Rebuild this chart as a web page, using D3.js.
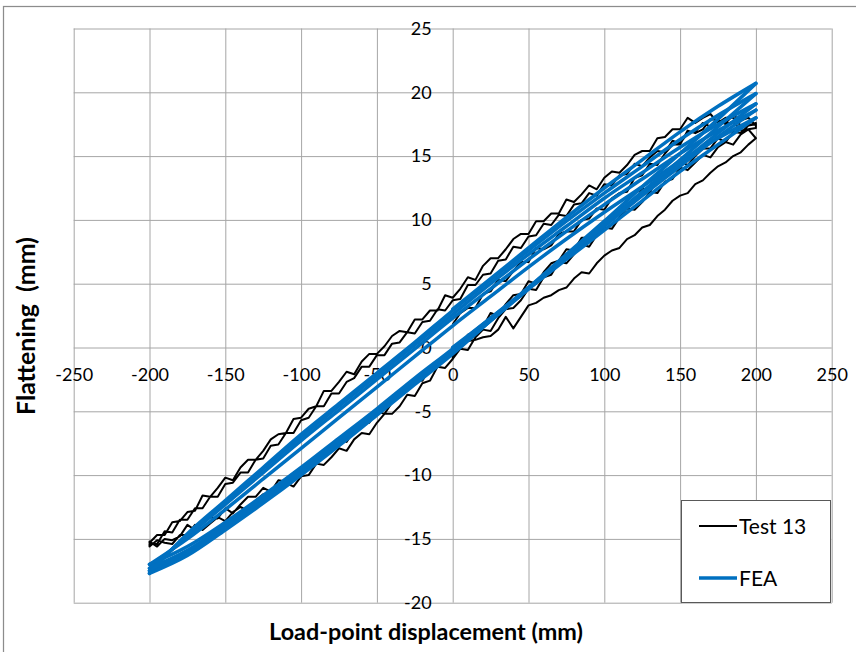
<!DOCTYPE html>
<html>
<head>
<meta charset="utf-8">
<script src="https://cdn.jsdelivr.net/npm/d3@7"></script>
<style>
html,body{margin:0;padding:0;background:#fff;}
svg{display:block;}
text{font-family:Lato,"Open Sans","Noto Sans",sans-serif;}
</style>
</head>
<body>
<svg id="chart" width="856" height="652"></svg>
<script>
// ---------------- DATA ----------------
const xTicks = [-250,-200,-150,-100,-50,0,50,100,150,200,250];
const yTicks = [-20,-15,-10,-5,0,5,10,15,20,25];
const seriesNames = ["Test 13","FEA"];

// Test 13 displacement grid (mm)
const dispUp = [-200,-195,-190,-185,-180,-175,-170,-165,-160,-155,-150,-145,-140,-135,-130,-125,-120,-115,-110,-105,-100,-95,-90,-85,-80,-75,-70,-65,-60,-55,-50,-45,-40,-35,-30,-25,-20,-15,-10,-5,0,5,10,15,20,25,30,35,40,45,50,55,60,65,70,75,80,85,90,95,100,105,110,115,120,125,130,135,140,145,150,155,160,165,170,175,180,185,190,195,200];
const dispDown = dispUp.slice().reverse();

// Test 13: first loading (0 -> 200)
const test13_load0_disp = [0,0,3,5,10,15,20,25,30,35,40,45,50,55,60,65,70,75,80,85,90,95,100,105,110,115,120,125,130,135,140,145,150,155,160,165,170,175,180,185,190,195,200];
const test13_load0 = [0.1,-0.9,0.0,0.2,0.5,0.6,0.8,0.9,1.4,2.4,1.5,2.4,3.3,3.5,3.9,4.1,4.5,4.7,5.4,5.9,5.8,6.6,7.2,7.6,7.8,8.5,8.8,9.4,9.6,10.3,10.8,11.5,11.9,12.1,12.8,13.1,13.7,14.2,14.5,15.0,15.3,15.9,16.4];
// Test 13: unloading 200 -> -200 (dispDown order)
const test13_unload1 = [16.4,17.1,17.0,17.7,17.5,17.8,17.3,17.6,16.9,16.8,16.0,16.2,15.3,15.4,14.9,14.2,14.4,13.6,13.5,12.7,12.8,11.9,12.1,11.3,11.2,10.3,10.4,9.6,9.7,8.8,8.7,7.8,7.9,6.9,6.8,5.8,5.7,4.9,4.9,3.8,3.7,2.9,3.0,2.1,2.0,1.1,1.2,0.4,0.3,-0.6,-0.6,-1.5,-1.5,-2.4,-2.7,-3.6,-3.6,-4.6,-4.6,-5.5,-5.7,-6.7,-6.7,-7.6,-7.7,-8.7,-8.8,-9.8,-9.8,-10.6,-10.7,-11.7,-11.7,-12.6,-12.6,-13.5,-13.5,-14.5,-14.4,-15.4,-15.4];
// Test 13: reloading -200 -> 200 (dispUp order)
const test13_load1 = [-15.6,-15.1,-15.3,-15.4,-14.7,-14.7,-13.9,-14.3,-13.8,-13.3,-13.6,-12.9,-12.5,-12.8,-12.0,-11.5,-11.7,-11.3,-10.6,-10.9,-10.1,-10.0,-9.1,-9.2,-8.6,-7.9,-8.1,-7.2,-6.7,-6.8,-5.9,-5.2,-5.2,-4.6,-3.7,-3.8,-2.8,-2.6,-1.5,-1.6,-0.9,-0.1,-0.2,0.8,1.4,1.3,2.3,3.0,3.1,3.7,4.6,4.5,5.5,5.7,6.7,6.6,7.3,8.1,7.9,8.8,9.4,9.3,10.2,10.9,10.8,11.4,12.2,12.1,13.0,13.2,14.1,13.9,14.5,15.1,14.9,15.7,16.1,15.9,16.7,17.1,17.2];
const test13_unload2 = [17.5,17.4,17.4,18.0,18.0,17.6,18.3,18.0,17.6,18.0,17.1,17.1,16.5,16.4,15.4,15.4,15.1,14.3,13.7,13.8,13.3,12.4,12.7,12.0,11.4,11.6,10.5,10.5,9.9,9.9,8.9,8.9,8.5,7.7,7.0,7.0,6.4,5.3,5.5,4.6,3.9,4.1,2.9,2.9,2.2,2.2,1.2,1.3,0.9,0.1,-0.5,-0.5,-1.1,-2.1,-1.9,-2.7,-3.4,-3.4,-4.6,-4.8,-5.5,-5.6,-6.7,-6.8,-7.2,-8.1,-8.8,-8.8,-9.4,-10.4,-10.2,-11.0,-11.7,-11.6,-12.8,-12.9,-13.6,-13.7,-14.7,-14.7,-15.3];
const test13_load2 = [-15.2,-15.6,-15.0,-15.1,-14.8,-13.9,-14.3,-13.6,-13.3,-13.4,-12.6,-13.0,-12.3,-11.7,-11.7,-11.0,-11.3,-10.4,-10.5,-9.8,-9.5,-9.5,-8.5,-8.4,-8.1,-7.1,-7.4,-6.5,-6.0,-5.9,-5.0,-5.2,-4.3,-3.6,-3.4,-2.5,-2.6,-1.6,-1.5,-0.7,-0.2,-0.1,1.0,1.2,1.6,2.7,2.5,3.4,4.1,4.2,5.2,5.0,5.9,6.6,6.8,7.7,7.6,8.6,8.6,9.4,9.9,10.0,11.0,11.1,11.4,12.5,12.2,13.1,13.6,13.7,14.6,14.3,15.0,15.6,15.6,16.4,16.1,16.9,16.8,17.4,17.6];
// Test 13: final unloading 200 -> 0 (first 41 of dispDown)
const test13_unload3 = [17.4,18.0,17.8,18.2,17.6,17.8,17.9,17.1,16.8,17.0,15.9,15.9,15.2,14.3,14.4,13.5,13.3,12.2,12.1,11.7,10.8,10.9,10.1,10.0,9.1,9.1,8.9,8.0,7.7,7.8,6.7,6.7,6.0,5.2,5.3,4.4,4.2,3.1,3.1,2.7,1.8];

// FEA displacement grid (mm)
const feaDispUp = [-200,-175,-150,-125,-100,-75,-50,-25,0,25,50,75,100,125,150,175,200];
const feaDispDown = feaDispUp.slice().reverse();
const fea_load0 = [0,2.3,4.6,6.9,9.2,11.5,13.8,15.9,18.0];            // 0 -> 200
const fea_unload1 = [18.0,16.4,14.6,12.6,10.6,8.5,6.3,4.0,1.7,-0.7,-3.1,-5.5,-7.9,-10.3,-12.7,-15.0,-17.0];
const fea_load1 = [-17.0,-15.6,-13.7,-11.6,-9.4,-7.1,-4.8,-2.4,-0.1,2.3,4.7,7.1,9.5,11.9,14.2,16.5,18.6];
const fea_unload2 = [18.6,17.0,15.2,13.2,11.2,9.1,6.9,4.6,2.3,-0.1,-2.5,-4.9,-7.3,-9.8,-12.3,-14.8,-17.3];
const fea_load2 = [-17.3,-15.9,-13.9,-11.8,-9.6,-7.3,-5.0,-2.6,-0.3,2.1,4.6,7.1,9.6,12.0,14.4,16.8,19.1];
const fea_unload3 = [19.1,17.5,15.7,13.7,11.7,9.5,7.3,5.0,2.6,0.2,-2.2,-4.6,-7.0,-9.5,-12.1,-14.7,-17.5];
const fea_load3 = [-17.5,-16.1,-14.1,-12.0,-9.8,-7.5,-5.2,-2.8,-0.4,2.1,4.6,7.1,9.7,12.2,14.7,17.3,19.9];
const fea_unload4 = [19.9,18.2,16.3,14.2,12.1,9.9,7.6,5.3,2.9,0.4,-2.0,-4.4,-6.8,-9.4,-12.0,-14.6,-17.7];
const fea_load4 = [-17.7,-16.3,-14.3,-12.2,-10.0,-7.7,-5.3,-2.9,-0.5,2.1,4.7,7.3,9.9,12.6,15.2,17.9,20.7];
const fea_unload5 = [20.7,18.9,16.9,14.7,12.5,10.2,7.8,5.4,3.0];        // 200 -> 0

// ---------------- CHART ----------------
const svg = d3.select("#chart");
const plot = {left:73.7, right:831.7, top:28.5, bottom:602.7};
const x = d3.scaleLinear().domain([-250,250]).range([plot.left, plot.right]);
const y = d3.scaleLinear().domain([-20,25]).range([plot.bottom, plot.top]);
const gridColor = "#a6a6a6";
const blue = "#0070c0";

// outer chart border
svg.append("rect").attr("x",3.5).attr("y",6.5).attr("width",900).attr("height",700)
  .attr("fill","none").attr("stroke","#8c8c8c").attr("stroke-width",1.25);

// gridlines via axes
svg.append("g").attr("transform",`translate(0,${plot.bottom})`)
  .call(d3.axisBottom(x).tickValues(xTicks).tickSize(-(plot.bottom-plot.top)).tickFormat(""))
  .call(g=>{g.select(".domain").remove(); g.selectAll("line").attr("stroke",gridColor).attr("stroke-width",1);});
svg.append("g").attr("transform",`translate(${plot.left},0)`)
  .call(d3.axisLeft(y).tickValues(yTicks).tickSize(-(plot.right-plot.left)).tickFormat(""))
  .call(g=>{g.select(".domain").remove(); g.selectAll("line").attr("stroke",gridColor).attr("stroke-width",1);});

// tick labels: x labels below y=0 line, y labels left of x=0 line
const fmt = d => String(d);
const xLab = svg.append("g").attr("transform",`translate(0,${y(0)})`)
  .call(d3.axisBottom(x).tickValues(xTicks).tickSize(0).tickPadding(21).tickFormat(fmt));
xLab.select(".domain").remove();
xLab.selectAll("text").attr("font-size",18).attr("fill","#000").attr("font-family","Lato");
const yLab = svg.append("g").attr("transform",`translate(${x(0)},0)`)
  .call(d3.axisLeft(y).tickValues(yTicks).tickSize(0).tickPadding(21).tickFormat(fmt));
yLab.select(".domain").remove();
yLab.selectAll("text").attr("font-size",18).attr("fill","#000").attr("font-family","Lato");

// ---- data lines ----
function pts(disp, vals){ return vals.map((v,i)=>[disp[i], v]); }
const testPoints = [].concat(
  pts(test13_load0_disp, test13_load0),
  pts(dispDown, test13_unload1),
  pts(dispUp, test13_load1),
  pts(dispDown, test13_unload2),
  pts(dispUp, test13_load2),
  pts(dispDown.slice(0,41), test13_unload3)
);
const lineLin = d3.line().x(d=>x(d[0])).y(d=>y(d[1]));
svg.append("path").datum(testPoints).attr("d",lineLin)
  .attr("fill","none").attr("stroke","#000").attr("stroke-width",2)
  .attr("stroke-linejoin","round");

const feaBranches = [
  pts(feaDispUp.slice(8), fea_load0),
  pts(feaDispDown, fea_unload1),
  pts(feaDispUp, fea_load1),
  pts(feaDispDown, fea_unload2),
  pts(feaDispUp, fea_load2),
  pts(feaDispDown, fea_unload3),
  pts(feaDispUp, fea_load3),
  pts(feaDispDown, fea_unload4),
  pts(feaDispUp, fea_load4),
  pts(feaDispDown.slice(0,9), fea_unload5)
];
const lineSmooth = d3.line().x(d=>x(d[0])).y(d=>y(d[1])).curve(d3.curveMonotoneX);
svg.append("g").selectAll("path").data(feaBranches.map(b=>b.slice().sort((a,c)=>a[0]-c[0])))
  .join("path").attr("d",lineSmooth)
  .attr("fill","none").attr("stroke",blue).attr("stroke-width",3.5)
  .attr("stroke-linecap","round");

// ---- axis titles ----
function fit(sel, target){
  const w = sel.node().getComputedTextLength();
  const fs = parseFloat(sel.attr("font-size"));
  sel.attr("font-size", (fs*target/w).toFixed(2));
}
const xt = svg.append("text").attr("x",426).attr("y",640).attr("text-anchor","middle")
  .attr("font-size",22).attr("font-weight","bold").attr("fill","#000")
  .text("Load-point displacement (mm)");
fit(xt, 314);
const yt = svg.append("text").attr("transform","translate(35,326) rotate(-90)").attr("text-anchor","middle")
  .attr("font-size",22).attr("font-weight","bold").attr("fill","#000")
  .style("white-space","pre")
  .text("Flattening  (mm)");
fit(yt, 178);

// ---- legend ----
const lg = svg.append("g");
lg.append("rect").attr("x",682).attr("y",502).attr("width",150).attr("height",102)
  .attr("fill","#d9d9d9").attr("opacity",0.6);
lg.append("rect").attr("x",681.5).attr("y",500.5).attr("width",149).attr("height",102)
  .attr("fill","#fff").attr("stroke","#595959").attr("stroke-width",1);
const legItems = [{name:seriesNames[0], color:"#000", w:2, yy:526},{name:seriesNames[1], color:blue, w:3.5, yy:578}];
legItems.forEach(it=>{
  lg.append("line").attr("x1",699).attr("x2",737).attr("y1",it.yy).attr("y2",it.yy)
    .attr("stroke",it.color).attr("stroke-width",it.w);
  lg.append("text").attr("x",739).attr("y",it.yy+8).attr("font-size",21).attr("fill","#000").text(it.name);
});
</script>
</body>
</html>
